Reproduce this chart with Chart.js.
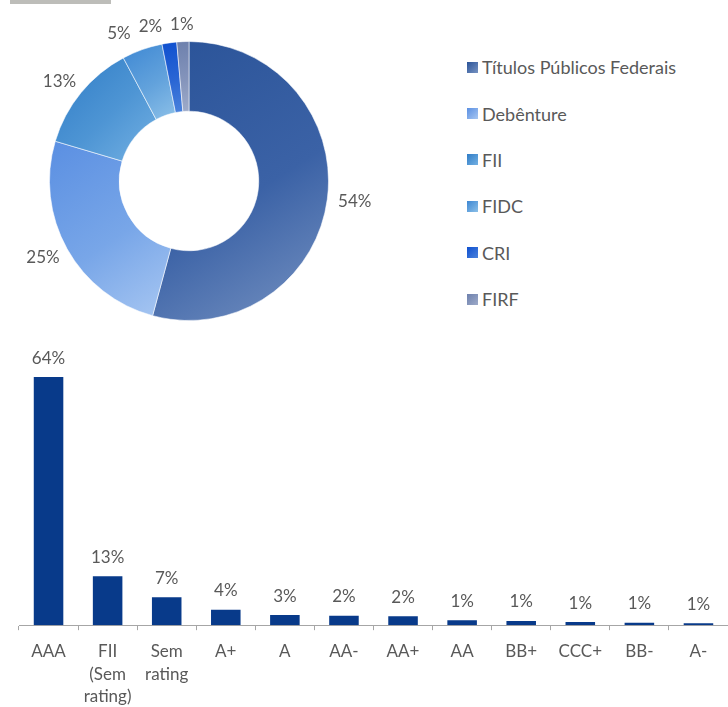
<!DOCTYPE html>
<html lang="pt-BR">
<head>
<meta charset="utf-8">
<title>Carteira</title>
<script src="https://cdn.jsdelivr.net/npm/chart.js@4.4.1/dist/chart.umd.min.js"></script>
<style>
    html, body { margin: 0; padding: 0; background: #fff; }
    body { width: 728px; height: 707px; position: relative; overflow: hidden; font-family: Lato, sans-serif; }
    .topBar { position: absolute; left: 10px; top: 0; width: 101px; height: 4px; background: #bdbdb9; }
    #shareWrap { position: absolute; left: 0; top: 0; width: 378px; height: 330px; }
    #ratingWrap { position: absolute; left: 0; top: 330px; width: 728px; height: 377px; overflow: hidden; }
    #shareLegend { position: absolute; left: 467px; top: 44px; margin: 0; padding: 0; list-style: none; }
    #shareLegend li { height: 46.4px; display: flex; align-items: center; font-size: 18px; color: #595959; }
    #shareLegend .box { width: 11px; height: 11px; margin-right: 4px; flex: none; }
</style>
</head>
<body>
<div class="topBar"></div>
<div id="shareWrap"><canvas id="shareChart" width="378" height="330"></canvas></div>
<ul id="shareLegend"></ul>
<div id="ratingWrap"><canvas id="ratingChart" width="728" height="391"></canvas></div>

<script>
// Composição da carteira por ativo
const shareLabels = ['Títulos Públicos Federais', 'Debênture', 'FII', 'FIDC', 'CRI', 'FIRF'];
const shareValues = [54.2, 25.4, 12.6, 4.7, 1.7, 1.4];
const shareDark = ['#2a5398', '#5a8fe2', '#2f7cc6', '#3d87d3', '#0e4fcf', '#6d80ad'];
const shareMid = ['#3b62a6', '#78a6e8', '#4e95d4', '#62a2dc', '#2a66d4', '#8494bb'];
const shareLight = ['#7793c2', '#a8c7f2', '#74b1e3', '#8cc0e8', '#4a82dc', '#9eabc9'];

// Distribuição por rating
const ratingLabels = ['AAA', ['FII', '(Sem', 'rating)'], ['Sem', 'rating'], 'A+', 'A', 'AA-', 'AA+', 'AA', 'BB+', 'CCC+', 'BB-', 'A-'];
const ratingValues = [64.0, 12.6, 7.2, 4.0, 2.6, 2.4, 2.3, 1.3, 1.1, 0.8, 0.6, 0.5];

const textColor = '#595959';
Chart.defaults.font.family = 'Lato, sans-serif';
Chart.defaults.color = textColor;

// gradiente de cada fatia, calculado sobre a caixa da própria fatia
function sliceGradient(context) {
    const i = context.dataIndex;
    const chart = context.chart;
    const area = chart.chartArea;
    if (!area || i === undefined) return shareDark[i || 0];
    const cx = (area.left + area.right) / 2;
    const cy = (area.top + area.bottom) / 2;
    const r = Math.min(area.width, area.height) / 2;
    const total = shareValues.reduce((a, b) => a + b, 0);
    let before = 0;
    for (let k = 0; k < i; k++) before += shareValues[k];
    const a0 = before / total * Math.PI * 2 - Math.PI / 2;
    const a1 = (before + shareValues[i]) / total * Math.PI * 2 - Math.PI / 2;
    let minX = Infinity, minY = Infinity, maxX = -Infinity, maxY = -Infinity;
    for (let s = 0; s <= 40; s++) {
        const a = a0 + (a1 - a0) * s / 40;
        [r, r * 0.5].forEach(rr => {
            const px = cx + Math.cos(a) * rr;
            const py = cy + Math.sin(a) * rr;
            minX = Math.min(minX, px); maxX = Math.max(maxX, px);
            minY = Math.min(minY, py); maxY = Math.max(maxY, py);
        });
    }
    const g = chart.ctx.createLinearGradient(minX, minY, maxX, maxY);
    g.addColorStop(0, shareDark[i]);
    g.addColorStop(0.55, shareMid[i]);
    g.addColorStop(1, shareLight[i]);
    return g;
}

// rótulos de porcentagem fora do anel
const outsideLabels = {
    id: 'outsideLabels',
    afterDatasetsDraw(chart) {
        const ctx = chart.ctx;
        const meta = chart.getDatasetMeta(0);
        ctx.save();
        ctx.font = '17px Lato, sans-serif';
        ctx.fillStyle = textColor;
        ctx.textAlign = 'center';
        ctx.textBaseline = 'middle';
        const boxes = meta.data.map((arc, i) => {
            const p = arc.getProps(['x', 'y', 'startAngle', 'endAngle', 'outerRadius'], true);
            const mid = (p.startAngle + p.endAngle) / 2;
            const ux = Math.cos(mid), uy = Math.sin(mid);
            const text = Math.round(shareValues[i]) + '%';
            const w = ctx.measureText(text).width;
            const h = 12;
            const d = p.outerRadius + 11;
            return { text, w, h, x: p.x + ux * d + ux * w / 2, y: p.y + uy * d + uy * h / 2 };
        });
        // empurra para a esquerda os rótulos pequenos que se sobrepõem
        for (let i = boxes.length - 2; i >= 0; i--) {
            const a = boxes[i], b = boxes[i + 1];
            const overlapY = Math.abs(a.y - b.y) < (a.h + b.h) / 2 + 2;
            const limit = b.x - b.w / 2 - 8;
            if (overlapY && a.x + a.w / 2 > limit) a.x = limit - a.w / 2;
        }
        boxes.forEach(b => ctx.fillText(b.text, b.x, b.y));
        ctx.restore();
    }
};

// valores em cima das barras
const barValues = {
    id: 'barValues',
    afterDatasetsDraw(chart) {
        const ctx = chart.ctx;
        const meta = chart.getDatasetMeta(0);
        ctx.save();
        ctx.font = '17px Lato, sans-serif';
        ctx.fillStyle = textColor;
        ctx.textAlign = 'center';
        ctx.textBaseline = 'alphabetic';
        meta.data.forEach((bar, i) => {
            ctx.fillText(Math.round(ratingValues[i]) + '%', bar.x, bar.y - 13.5);
        });
        ctx.restore();
    }
};

document.addEventListener('DOMContentLoaded', function() {
    // legenda em HTML
    const legend = document.getElementById('shareLegend');
    shareLabels.forEach((label, i) => {
        const li = document.createElement('li');
        const box = document.createElement('span');
        box.className = 'box';
        box.style.background = 'linear-gradient(135deg, ' + shareDark[i] + ', ' + shareLight[i] + ')';
        li.appendChild(box);
        li.appendChild(document.createTextNode(label));
        legend.appendChild(li);
    });

    const shareCtx = document.getElementById('shareChart').getContext('2d');
    window.shareChart = new Chart(shareCtx, {
        type: 'doughnut',
        data: {
            labels: shareLabels,
            datasets: [{
                data: shareValues,
                backgroundColor: sliceGradient,
                borderColor: 'rgba(255, 255, 255, 0.55)',
                borderWidth: 1,
                hoverOffset: 0
            }]
        },
        options: {
            responsive: false,
            animation: false,
            cutout: '50%',
            layout: { padding: { top: 41, bottom: 9, left: 49, right: 49 } },
            plugins: {
                legend: { display: false },
                tooltip: { enabled: false }
            }
        },
        plugins: [outsideLabels]
    });

    const ratingCtx = document.getElementById('ratingChart').getContext('2d');
    window.ratingChart = new Chart(ratingCtx, {
        type: 'bar',
        data: {
            labels: ratingLabels,
            datasets: [{
                data: ratingValues,
                backgroundColor: '#083a8a',
                barPercentage: 0.5,
                categoryPercentage: 1.0
            }]
        },
        options: {
            responsive: false,
            animation: false,
            layout: { padding: { top: 23.75, bottom: 3, left: 19, right: 0 } },
            plugins: {
                legend: { display: false },
                tooltip: { enabled: false }
            },
            scales: {
                x: {
                    grid: {
                        display: true,
                        drawOnChartArea: false,
                        drawTicks: true,
                        tickLength: 5,
                        color: '#a6a6a6',
                        offset: true
                    },
                    border: { display: true, color: '#a6a6a6', width: 1 },
                    ticks: {
                        padding: 10,
                        autoSkip: false,
                        maxRotation: 0,
                        color: textColor,
                        font: { size: 17, lineHeight: 1.33 }
                    }
                },
                y: {
                    display: false,
                    min: 0,
                    max: 70
                }
            }
        },
        plugins: [barValues]
    });
});
</script>
</body>
</html>
